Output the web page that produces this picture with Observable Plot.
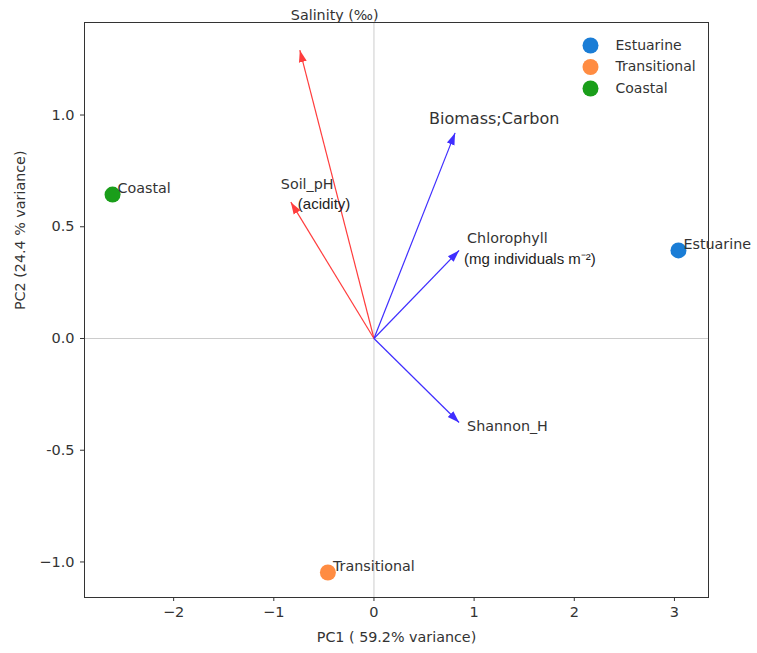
<!DOCTYPE html>
<html>
<head>
<meta charset="utf-8">
<script src="https://cdn.jsdelivr.net/npm/d3@7"></script>
<script src="https://cdn.jsdelivr.net/npm/@observablehq/plot@0.6"></script>
<style>
  body { margin: 0; background: #fff; }
  #chart svg { display: block; }
</style>
</head>
<body>
<div id="chart"></div>
<script>
// ---- data ----
const groups = ["Estuarine", "Transitional", "Coastal"];
const groupPC1 = [3.04, -0.46, -2.61];
const groupPC2 = [0.394, -1.047, 0.644];
const groupColors = ["#1a7dd6", "#ff8c42", "#1a9e1a"];

const loadingNames = ["Salinity", "Soil_pH", "Biomass", "Chlorophyll", "Shannon_H"];
const loadingPC1 = [-0.74, -0.83, 0.81, 0.85, 0.85];
const loadingPC2 = [1.29, 0.61, 0.92, 0.394, -0.376];
const loadingKind = ["env", "env", "bio", "bio", "bio"];

// arrow label text (line 1, line 2) and anchor positions in data units
const labelLine1 = ["Salinity (‰)", "Soil_pH", "Biomass;Carbon", "Chlorophyll", "Shannon_H"];
const labelLine2 = ["", "(acidity)", "", "(mg individuals m⁻²)", ""];
const label1X = [-0.83, -0.93, 0.55, 0.93, 0.93];
const label1Y = [1.445, 0.69, 0.984, 0.45, -0.394];
const label2X = [null, -0.76, null, 0.90, null];
const label2Y = [null, 0.60, null, 0.353, null];

const xTicks = [-2, -1, 0, 1, 2, 3];
const xTickLabels = ["−2", "−1", "0", "1", "2", "3"];
const yTicks = [1.0, 0.5, 0.0, -0.5, -1.0];
const yTickLabels = ["1.0", "0.5", "0.0", "-0.5", "−1.0"];

const xLabel = "PC1 ( 59.2% variance)";
const yLabel = "PC2 (24.4 % variance)";

// ---- tables built from arrays ----
const points = groups.map((g, i) => ({group: g, x: groupPC1[i], y: groupPC2[i]}));
const loadings = loadingNames.map((n, i) => ({
  name: n, x: loadingPC1[i], y: loadingPC2[i], kind: loadingKind[i],
  l1: labelLine1[i], l1x: label1X[i], l1y: label1Y[i],
  l2: labelLine2[i], l2x: label2X[i], l2y: label2Y[i]
}));
const kindColor = {env: "#ff3d3d", bio: "#3f2eff"};

// filled triangular arrowhead marker (matplotlib-like)
function headMarker(color, context) {
  const doc = (context && context.document) || document;
  const ns = "http://www.w3.org/2000/svg";
  const m = doc.createElementNS(ns, "marker");
  m.setAttribute("viewBox", "0 -5 12 10");
  m.setAttribute("refX", "12");
  m.setAttribute("refY", "0");
  m.setAttribute("markerUnits", "userSpaceOnUse");
  m.setAttribute("markerWidth", "12");
  m.setAttribute("markerHeight", "10");
  m.setAttribute("orient", "auto");
  const p = doc.createElementNS(ns, "path");
  p.setAttribute("d", "M0,-4L12,0L0,4Z");
  p.setAttribute("fill", color);
  p.setAttribute("stroke", "none");
  m.appendChild(p);
  return m;
}

const font = "DejaVu Sans, sans-serif";
const altFont = "Liberation Sans, Arial, sans-serif";

const legendMarks = [];
groups.forEach((g, i) => {
  legendMarks.push(Plot.dot([g], {
    frameAnchor: "top-right", dx: -118, dy: 23 + i * 21.5,
    r: 8, fill: groupColors[i], stroke: "none"
  }));
  legendMarks.push(Plot.text([g], {
    frameAnchor: "top-right", dx: -93, dy: 23 + i * 21.5, lineAnchor: "middle",
    text: d => d, textAnchor: "start", fontSize: 14, fill: "#333", fontFamily: font
  }));
});

const chart = Plot.plot({
  width: 757,
  height: 653,
  marginLeft: 84,
  marginRight: 49,
  marginTop: 22,
  marginBottom: 56,
  style: {fontFamily: font, fontSize: "14px", color: "#333", background: "#fff"},
  x: {domain: [-2.89, 3.34], label: null},
  y: {domain: [-1.159, 1.414], label: null},
  color: {domain: groups, range: groupColors},
  marks: [
    Plot.axisX({ticks: xTicks, tickFormat: (d) => xTickLabels[xTicks.indexOf(d)], label: null,
      tickSize: 4, tickPadding: 5, fontSize: 14.5, stroke: "#333", fill: "#333"}),
    Plot.axisY({ticks: yTicks, tickFormat: (d) => yTickLabels[yTicks.indexOf(d)], label: null,
      tickSize: 4, tickPadding: 6, fontSize: 14.5, stroke: "#333", fill: "#333"}),
    Plot.ruleX([0], {stroke: "#cccccc", strokeWidth: 1}),
    Plot.ruleY([0], {stroke: "#cccccc", strokeWidth: 1}),
    Plot.link(loadings, {
      x1: 0, y1: 0, x2: "x", y2: "y",
      stroke: d => kindColor[d.kind], strokeWidth: 1.2,
      markerEnd: headMarker
    }),
    Plot.text(loadings, {x: "l1x", y: "l1y", text: "l1", textAnchor: "start",
      fontSize: d => d.name === "Biomass" ? 16 : 14.3,
      fontFamily: d => d.name === "Biomass" ? altFont : font,
      fill: "#333"}),
    Plot.text(loadings.filter(d => d.l2), {x: "l2x", y: "l2y", text: "l2", textAnchor: "start",
      fontSize: 15, fontFamily: altFont, fill: "#222"}),
    Plot.dot(points, {x: "x", y: "y", r: 8, fill: "group", stroke: "none"}),
    Plot.text(points, {x: "x", y: "y", text: "group", textAnchor: "start", dx: 5, dy: -6,
      fontSize: 14.3, fill: "#333"}),
    ...legendMarks,
    Plot.text([xLabel], {frameAnchor: "bottom", dy: 40, lineAnchor: "middle", text: d => d, fontSize: 14.3, fill: "#333"}),
    Plot.text([yLabel], {frameAnchor: "left", dx: -64, lineAnchor: "middle", rotate: -90, text: d => d, fontSize: 14.3, fill: "#333"}),
    Plot.frame({stroke: "#333", strokeWidth: 1})
  ]
});
document.getElementById("chart").appendChild(chart);
</script>
</body>
</html>
